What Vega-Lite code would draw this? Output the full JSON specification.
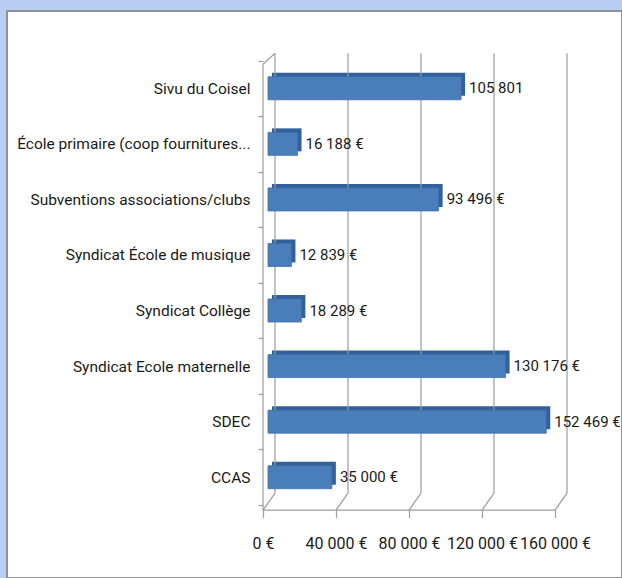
{
  "$schema": "https://vega.github.io/schema/vega-lite/v6.json",
  "width": 615,
  "height": 567,
  "autosize": {"type": "none"},
  "padding": {"left": 7, "top": 11, "right": 0, "bottom": 0},
  "background": "#b8cdf2",
  "config": {
    "view": {"fill": "white", "stroke": "#8d929b", "strokeWidth": 2},
    "font": "Roboto"
  },
  "datasets": {
    "budget": [
      {"name": "Sivu du Coisel", "value": 105801, "label": "105 801"},
      {"name": "École primaire (coop fournitures...", "value": 16188, "label": "16 188 €"},
      {"name": "Subventions associations/clubs", "value": 93496, "label": "93 496 €"},
      {"name": "Syndicat École de musique", "value": 12839, "label": "12 839 €"},
      {"name": "Syndicat Collège", "value": 18289, "label": "18 289 €"},
      {"name": "Syndicat Ecole maternelle", "value": 130176, "label": "130 176 €"},
      {"name": "SDEC", "value": 152469, "label": "152 469 €"},
      {"name": "CCAS", "value": 35000, "label": "35 000 €"}
    ],
    "grid": [
      {"v": 0, "top": "Sivu du Coisel", "bottom": "CCAS"},
      {"v": 40000, "top": "Sivu du Coisel", "bottom": "CCAS"},
      {"v": 80000, "top": "Sivu du Coisel", "bottom": "CCAS"},
      {"v": 120000, "top": "Sivu du Coisel", "bottom": "CCAS"},
      {"v": 160000, "top": "Sivu du Coisel", "bottom": "CCAS"}
    ],
    "frame": [
      {"from": 0, "to": 160000, "top": "Sivu du Coisel", "bottom": "CCAS"}
    ]
  },
  "encoding": {
    "x": {
      "type": "quantitative",
      "scale": {"domain": [-140274, 196712], "nice": false, "zero": false},
      "axis": {"values": [0, 40000, 80000, 120000, 160000], "offset": -68.5, "domain": false, "grid": false, "tickColor": "#9c9c9c", "tickSize": 8, "tickWidth": 1.2, "labelFontSize": 16, "labelColor": "#1a1a1a", "labelPadding": 18, "labelFlush": false, "labelOverlap": false, "labelExpr": "replace(format(datum.value, ',d'), ',', ' ') + ' €'", "title": null}
    },
    "y": {
      "type": "nominal", "sort": null,
      "scale": {"domain": ["Sivu du Coisel", "École primaire (coop fournitures...", "Subventions associations/clubs", "Syndicat École de musique", "Syndicat Collège", "Syndicat Ecole maternelle", "SDEC", "CCAS"], "range": [49.5, 494], "paddingInner": 0, "paddingOuter": 0, "round": false},
      "axis": {"offset": -256, "domain": false, "grid": false, "tickBand": "extent", "tickSize": 5, "tickWidth": 1.2, "tickColor": "#9c9c9c", "labelFontSize": 15.5, "labelColor": "#1a1a1a", "labelPadding": 8, "labelLimit": 400, "title": null}
    }
  },
  "layer": [
    {
      "data": {"name": "budget"},
      "mark": {"type": "bar", "color": "#34609a", "height": 23, "xOffset": 9, "x2Offset": 9, "yOffset": -4},
      "encoding": {
        "x": {"field": "value"},
        "y": {"field": "name"}
      }
    },
    {
      "data": {"name": "grid"},
      "mark": {"type": "rule", "color": "#9c9c9c", "strokeWidth": 1.2, "xOffset": 12, "yOffset": -35, "y2Offset": 16},
      "encoding": {
        "x": {"field": "v"},
        "y": {"field": "top"},
        "y2": {"field": "bottom"}
      }
    },
    {
      "data": {"name": "grid"},
      "mark": {"type": "rule", "color": "#9c9c9c", "strokeWidth": 1.2, "xOffset": 12, "x2Offset": 0, "yOffset": 16, "y2Offset": 33},
      "encoding": {
        "x": {"field": "v"},
        "x2": {"field": "v"},
        "y": {"field": "bottom"},
        "y2": {"field": "bottom"}
      }
    },
    {
      "data": {"name": "frame"},
      "mark": {"type": "rule", "color": "#9c9c9c", "strokeWidth": 1.2, "yOffset": -24, "y2Offset": 33},
      "encoding": {
        "x": {"field": "from"},
        "y": {"field": "top"},
        "y2": {"field": "bottom"}
      }
    },
    {
      "data": {"name": "frame"},
      "mark": {"type": "rule", "color": "#9c9c9c", "strokeWidth": 1.2, "x2Offset": 12, "yOffset": -24, "y2Offset": -35},
      "encoding": {
        "x": {"field": "from"},
        "x2": {"field": "from"},
        "y": {"field": "top"},
        "y2": {"field": "top"}
      }
    },
    {
      "data": {"name": "frame"},
      "mark": {"type": "rule", "color": "#9c9c9c", "strokeWidth": 1.2, "yOffset": 33},
      "encoding": {
        "x": {"field": "from"},
        "x2": {"field": "to"},
        "y": {"field": "bottom"}
      }
    },
    {
      "data": {"name": "budget"},
      "mark": {"type": "bar", "color": "#4a7ebb", "stroke": "#3f70ab", "strokeWidth": 0.8, "height": 23, "xOffset": 5, "x2Offset": 5},
      "encoding": {
        "x": {"field": "value"},
        "y": {"field": "name"}
      }
    },
    {
      "data": {"name": "budget"},
      "mark": {"type": "text", "align": "left", "baseline": "middle", "dx": 13, "fontSize": 15, "color": "#1a1a1a"},
      "encoding": {
        "x": {"field": "value"},
        "y": {"field": "name"},
        "text": {"field": "label"}
      }
    }
  ]
}
